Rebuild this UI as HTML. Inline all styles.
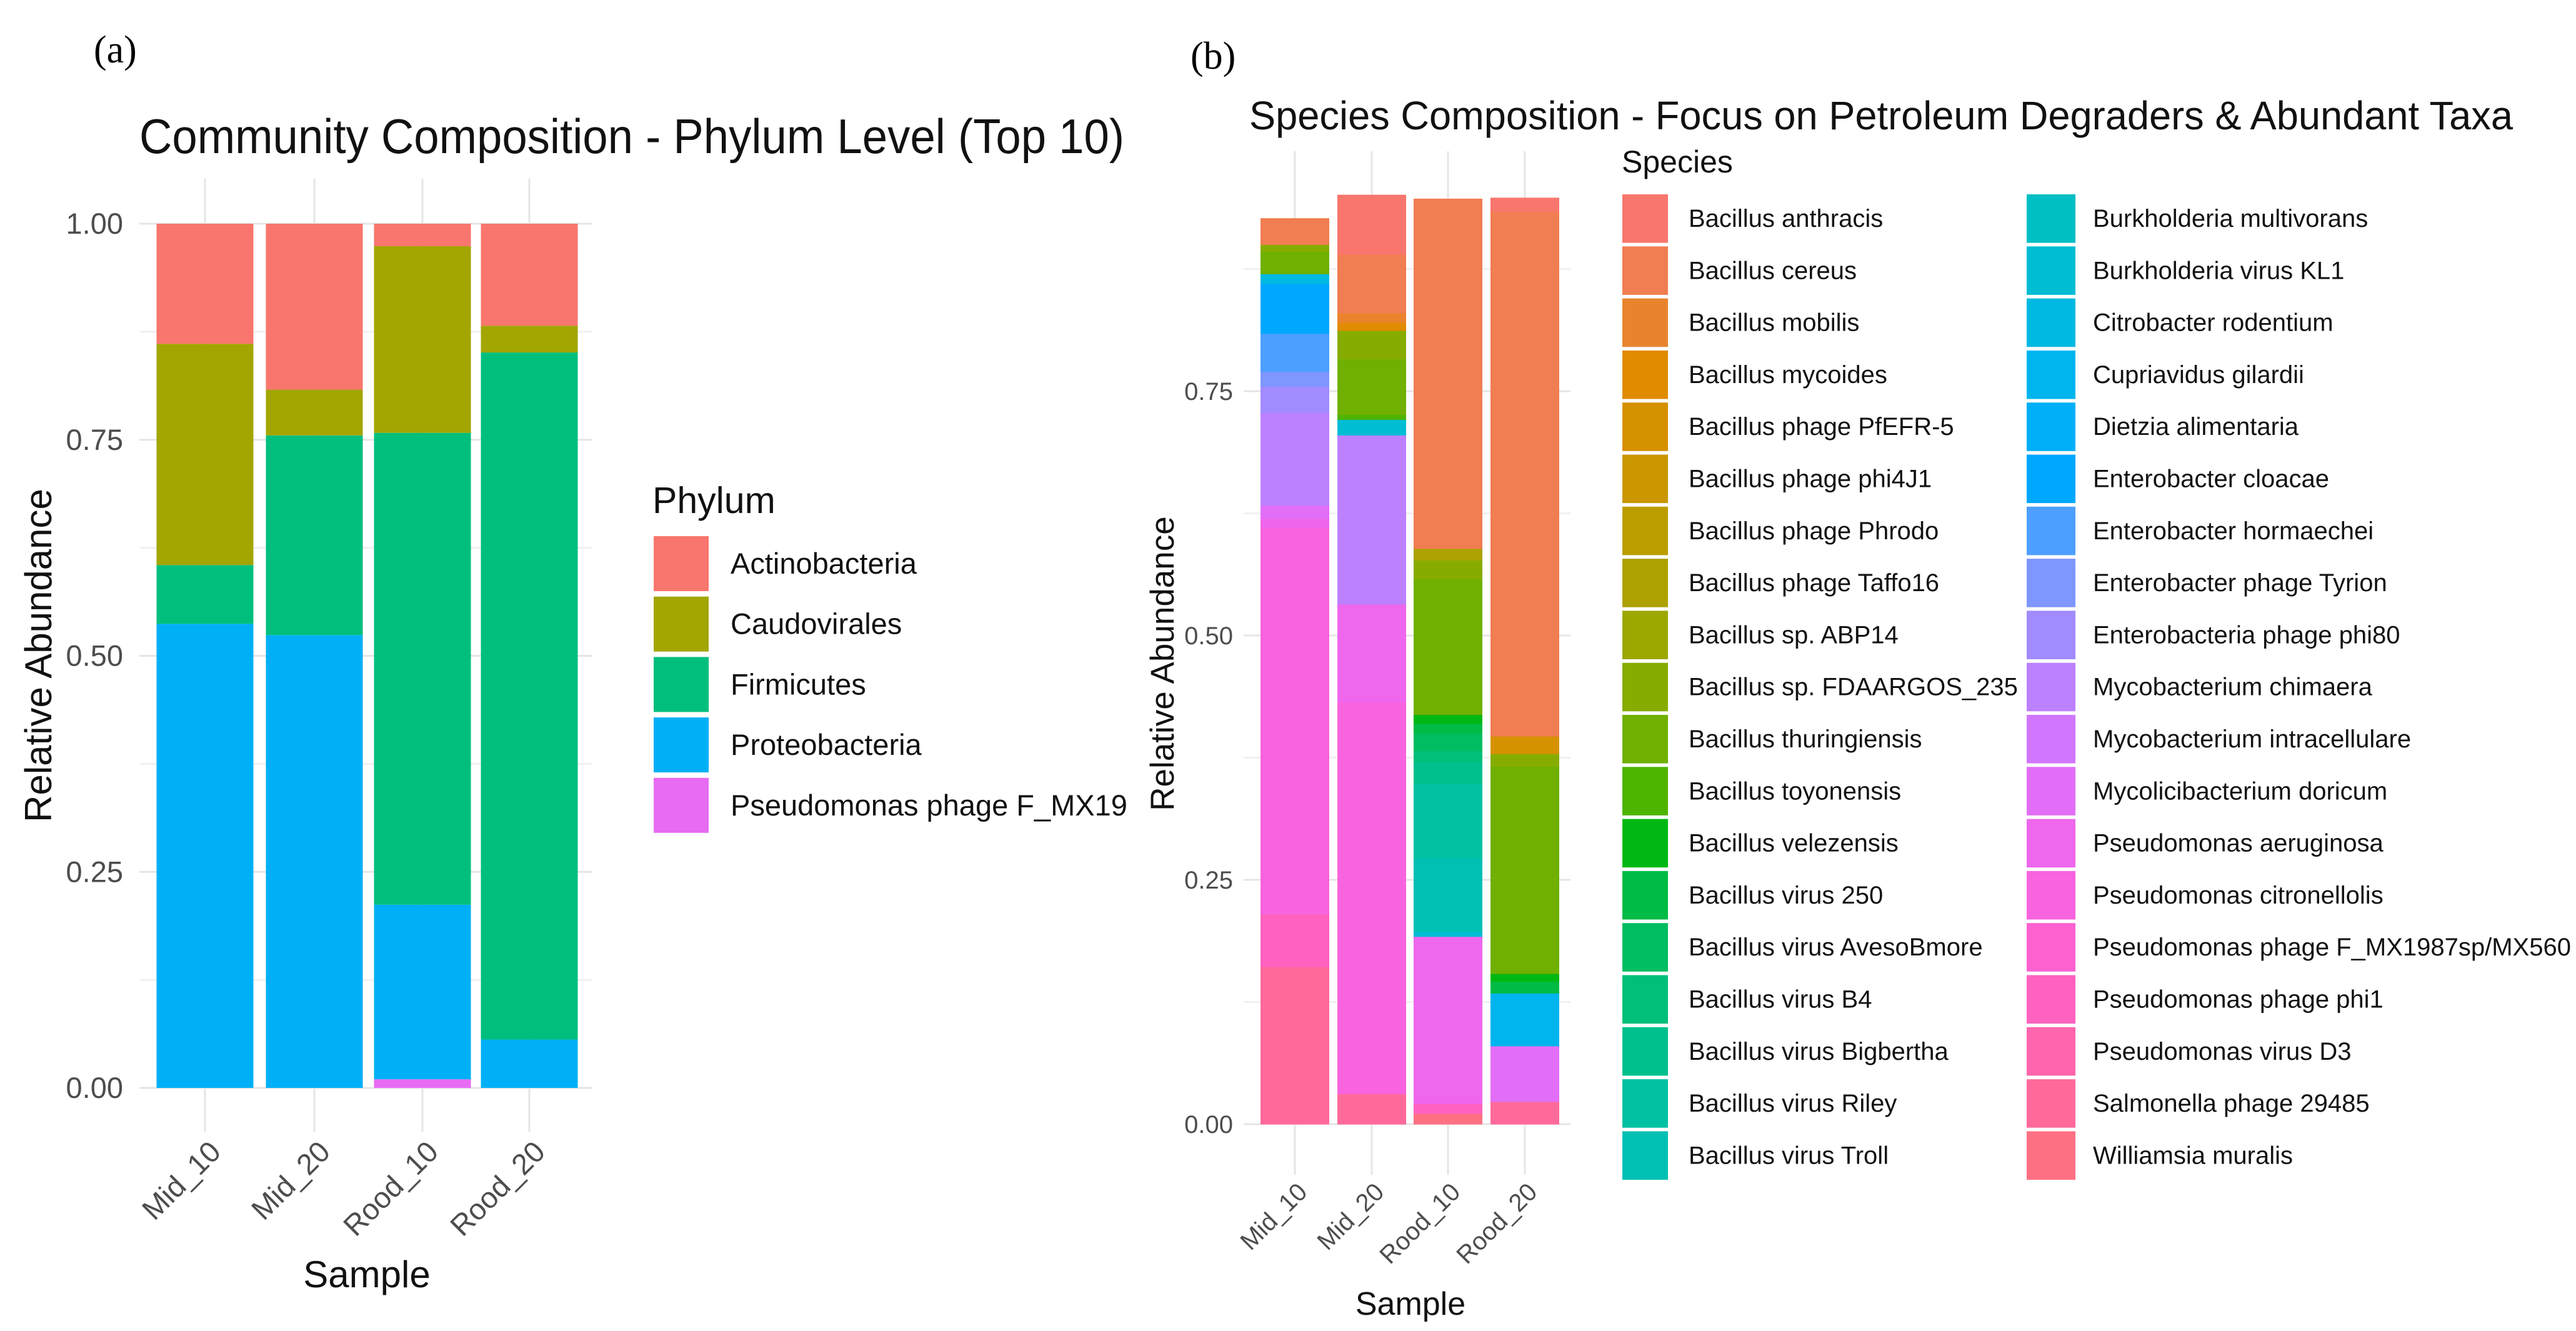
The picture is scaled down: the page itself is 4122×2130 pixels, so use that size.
<!DOCTYPE html>
<html><head><meta charset="utf-8">
<style>
html,body{margin:0;padding:0;background:#fff;}
svg{display:block;font-family:"Liberation Sans",Arial,sans-serif;}
</style></head>
<body>
<svg id="fig" width="4122" height="2130" viewBox="0 0 4122 2130" xmlns="http://www.w3.org/2000/svg">
<rect width="4122" height="2130" fill="#fff"/>
<text x="150" y="100" font-family="Liberation Serif,serif" font-size="62">(a)</text>
<text x="1905" y="110" font-family="Liberation Serif,serif" font-size="62">(b)</text>
<text x="1011" y="245" text-anchor="middle" font-size="78" textLength="1576" lengthAdjust="spacingAndGlyphs" fill="#111">Community Composition - Phylum Level (Top 10)</text>
<text x="3010" y="207" text-anchor="middle" font-size="64" textLength="2022" lengthAdjust="spacingAndGlyphs" fill="#111">Species Composition - Focus on Petroleum Degraders &amp; Abundant Taxa</text>
<g id="ga"></g>
<g id="gb"></g>
</svg>
<script>
const samples = ["Mid_10","Mid_20","Rood_10","Rood_20"];
const yTicks = [0, 0.25, 0.5, 0.75, 1.0];
const yTickLabels = ["0.00","0.25","0.50","0.75","1.00"];
const bTicks = [0, 0.25, 0.5, 0.75];
const bTickLabels = ["0.00","0.25","0.50","0.75"];
const phyla = ["Actinobacteria","Caudovirales","Firmicutes","Proteobacteria","Pseudomonas phage F_MX19"];
const phylaColors = ["#F8766D","#A3A500","#00BF7D","#00B0F6","#E76BF3"];
// per-phylum values for each sample (Mid_10, Mid_20, Rood_10, Rood_20)
const actinobacteria = [0.139, 0.192, 0.026, 0.118];
const caudovirales = [0.256, 0.053, 0.216, 0.031];
const firmicutes = [0.068, 0.231, 0.546, 0.795];
const proteobacteria = [0.537, 0.524, 0.202, 0.056];
const pseudoPhage = [0.0, 0.0, 0.010, 0.0];

const species = ["Bacillus anthracis","Bacillus cereus","Bacillus mobilis","Bacillus mycoides","Bacillus phage PfEFR-5","Bacillus phage phi4J1","Bacillus phage Phrodo","Bacillus phage Taffo16","Bacillus sp. ABP14","Bacillus sp. FDAARGOS_235","Bacillus thuringiensis","Bacillus toyonensis","Bacillus velezensis","Bacillus virus 250","Bacillus virus AvesoBmore","Bacillus virus B4","Bacillus virus Bigbertha","Bacillus virus Riley","Bacillus virus Troll","Burkholderia multivorans","Burkholderia virus KL1","Citrobacter rodentium","Cupriavidus gilardii","Dietzia alimentaria","Enterobacter cloacae","Enterobacter hormaechei","Enterobacter phage Tyrion","Enterobacteria phage phi80","Mycobacterium chimaera","Mycobacterium intracellulare","Mycolicibacterium doricum","Pseudomonas aeruginosa","Pseudomonas citronellolis","Pseudomonas phage F_MX1987sp/MX560","Pseudomonas phage phi1","Pseudomonas virus D3","Salmonella phage 29485","Williamsia muralis"];
// species abundances per sample (index aligned with species list)
const mid10Values = [0,0.027,0,0,0,0,0,0,0,0.007,0.023,0,0,0,0,0,0,0,0,0,0,0.010,0,0,0.051,0.039,0.015,0.027,0.095,0,0.013,0.009,0.396,0,0.054,0,0.161,0];
const mid20Values = [0.061,0.060,0.010,0.008,0,0,0,0,0,0.029,0.057,0.005,0,0,0,0,0,0,0,0,0.016,0,0,0,0,0,0,0,0.173,0,0,0.100,0.401,0,0,0,0.031,0];
const rood10Values = [0,0.358,0,0,0,0,0,0.012,0,0.019,0.139,0,0.009,0.010,0.018,0.011,0.023,0.076,0.075,0,0.005,0,0,0,0,0,0,0,0,0,0,0.171,0,0,0.010,0,0,0.011];
const rood20Values = [0.014,0.537,0,0,0.018,0,0,0,0,0.013,0.212,0,0.008,0.012,0,0,0,0,0,0,0,0,0.054,0,0,0,0,0,0,0,0.057,0,0,0,0,0,0.023,0];
const speciesValues = [mid10Values, mid20Values, rood10Values, rood20Values];

const NS="http://www.w3.org/2000/svg";
function mk(parent, tag, attrs, text){const e=document.createElementNS(NS,tag);for(const k in attrs)e.setAttribute(k,attrs[k]);if(text!==undefined)e.textContent=text;parent.appendChild(e);return e;}
function hcl(h,c,l){const hr=h*Math.PI/180,u=c*Math.cos(hr),v=c*Math.sin(hr);const Xn=95.047,Yn=100,Zn=108.883;const d=Xn+15*Yn+3*Zn,un=4*Xn/d,vn=9*Yn/d;const Y=l>8?Yn*Math.pow((l+16)/116,3):Yn*l/903.3;const up=u/(13*l)+un,vp=v/(13*l)+vn;const X=Y*9*up/(4*vp),Z=Y*(12-3*up-20*vp)/(4*vp);const x=X/100,y=Y/100,z=Z/100;let r=3.2406*x-1.5372*y-0.4986*z,g=-0.9689*x+1.8758*y+0.0415*z,b=0.0557*x-0.2040*y+1.0570*z;const gm=t=>{t=t<=0.0031308?12.92*t:1.055*Math.pow(t,1/2.4)-0.055;return Math.round(Math.max(0,Math.min(1,t))*255);};return "rgb("+gm(r)+","+gm(g)+","+gm(b)+")";}
const nSp=species.length;
const spColors=species.map((s,i)=>hcl(15+360*i/nSp,100,65));

// ---------- Chart A ----------
const ga=document.getElementById('ga');
const A={x0:223,x1:948,y0:1741,y1:358,gTop:286,gBot:1811,cx:[328,503,676,847],bw:155};
const ayS=v=>A.y0+(A.y1-A.y0)*v;
for(let i=0;i<4;i++){const v=i*0.25+0.125;const l=mk(ga,'line',{x1:A.x0,x2:A.x1,y1:ayS(v),y2:ayS(v),stroke:'#f0f0f0','stroke-width':3});}
yTicks.forEach((v,i)=>{const l=mk(ga,'line',{x1:A.x0,x2:A.x1,y1:ayS(v),y2:ayS(v),stroke:'#e5e5e5','stroke-width':3});
const t=mk(ga,'text',{x:197,y:ayS(v)+16,'text-anchor':'end','font-size':47,fill:'#4d4d4d'},yTickLabels[i]);});
A.cx.forEach((cx,i)=>{const l=mk(ga,'line',{x1:cx,x2:cx,y1:A.gTop,y2:A.gBot,stroke:'#e5e5e5','stroke-width':3});
const t=mk(ga,'text',{'text-anchor':'end','font-size':47,fill:'#4d4d4d',transform:`translate(${cx+28},${A.gBot+35}) rotate(-45)`},samples[i]);});
const phylaSeries=[actinobacteria,caudovirales,firmicutes,proteobacteria,pseudoPhage];
samples.forEach((s,si)=>{let cum=0;for(let p=phylaSeries.length-1;p>=0;p--){const v=phylaSeries[p][si];if(v<=0)continue;const yT=ayS(cum+v),yB=ayS(cum);const r=mk(ga,'rect',{x:A.cx[si]-A.bw/2,y:yT,width:A.bw,height:yB-yT,fill:phylaColors[p]});cum+=v;}});
let t1=mk(ga,'text',{'text-anchor':'middle','font-size':60,fill:'#111',transform:'translate(82,1049) rotate(-90)'},'Relative Abundance');
t1=mk(ga,'text',{x:587,y:2060,'text-anchor':'middle','font-size':60,fill:'#111'},'Sample');
t1=mk(ga,'text',{x:1044,y:821,'font-size':59,fill:'#111'},'Phylum');
phyla.forEach((p,i)=>{const y=858+i*96.7;const r=mk(ga,'rect',{x:1046,y:y,width:88,height:88,fill:phylaColors[i]});
const t=mk(ga,'text',{x:1169,y:y+60,'font-size':47,fill:'#111'},p);});

// ---------- Chart B ----------
const gb=document.getElementById('gb');
const B={x0:1990,x1:2513,y0:1799,unit:1564,gTop:242,gBot:1880,cx:[2072,2195,2317,2440],bw:110};
const byS=v=>B.y0-B.unit*v;
for(let i=0;i<4;i++){const v=i*0.25+0.125;const l=mk(gb,'line',{x1:B.x0,x2:B.x1,y1:byS(v),y2:byS(v),stroke:'#f0f0f0','stroke-width':3});}
bTicks.forEach((v,i)=>{const l=mk(gb,'line',{x1:B.x0,x2:B.x1,y1:byS(v),y2:byS(v),stroke:'#e5e5e5','stroke-width':3});
const t=mk(gb,'text',{x:1973,y:byS(v)+14,'text-anchor':'end','font-size':40,fill:'#4d4d4d'},bTickLabels[i]);});
B.cx.forEach((cx,i)=>{const l=mk(gb,'line',{x1:cx,x2:cx,y1:B.gTop,y2:B.gBot,stroke:'#e5e5e5','stroke-width':3});
const t=mk(gb,'text',{'text-anchor':'end','font-size':40,fill:'#4d4d4d',transform:`translate(${cx+22},${B.gBot+30}) rotate(-45)`},samples[i]);});
samples.forEach((s,si)=>{let cum=0;const vals=speciesValues[si];for(let k=nSp-1;k>=0;k--){const v=vals[k];if(v<=0)continue;const yT=byS(cum+v),yB=byS(cum);const r=mk(gb,'rect',{x:B.cx[si]-B.bw/2,y:yT,width:B.bw,height:yB-yT+0.5,fill:spColors[k]});cum+=v;}});
t1=mk(gb,'text',{'text-anchor':'middle','font-size':53,fill:'#111',transform:'translate(1878,1062) rotate(-90)'},'Relative Abundance');
t1=mk(gb,'text',{x:2257,y:2104,'text-anchor':'middle','font-size':52,fill:'#111'},'Sample');
t1=mk(gb,'text',{x:2595,y:276,'font-size':50,fill:'#111'},'Species');
species.forEach((s,i)=>{const col=i<19?0:1,row=i%19;const kx=col?3243:2596,lx=col?3349:2702;const y=311+row*83.3;
const r=mk(gb,'rect',{x:kx,y:y,width:col?78:73,height:77.6,fill:spColors[i]});
const t=mk(gb,'text',{x:lx,y:y+52,'font-size':40,fill:'#111'},s);});
</script>
</body></html>
